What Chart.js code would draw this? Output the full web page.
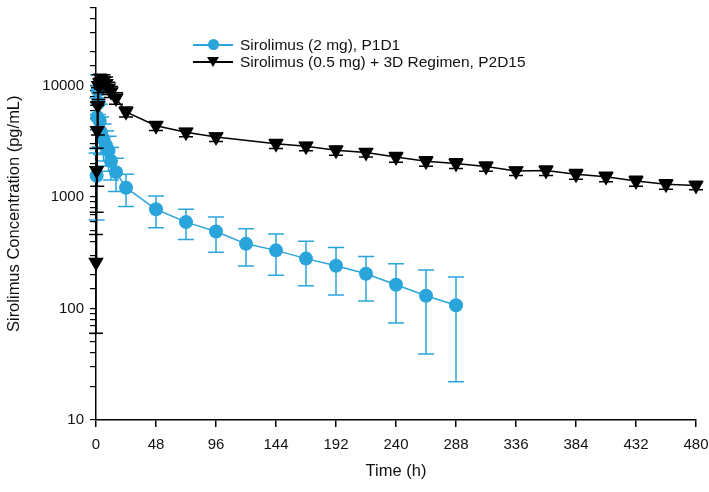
<!DOCTYPE html>
<html lang="en">
<head>
    <meta charset="UTF-8">
    <title>Sirolimus Concentration</title>
    <script src="https://cdn.jsdelivr.net/npm/chart.js"></script>
    <style>
        body { margin: 0; background: #fff; font-family: "Liberation Sans", Arial, sans-serif; }
        #wrap { position: relative; width: 709px; height: 492px; }
        .legend { position: absolute; left: 193px; top: 36px; font-size: 15.5px; color: #111; }
        .row { position: relative; height: 17px; line-height: 17px; padding-left: 47px; white-space: nowrap; }
        .ln { position: absolute; left: 0; top: 8px; width: 40px; height: 1.5px; }
        .dot { position: absolute; left: 15px; top: 3px; width: 11px; height: 11px; border-radius: 50%; background: #2aa5db; }
        .tri { position: absolute; left: 14px; top: 4px; width: 0; height: 0;
               border-left: 6px solid transparent; border-right: 6px solid transparent; border-top: 10px solid #000; }
    </style>
</head>
<body>
<div id="wrap">
    <canvas id="pkChart" width="709" height="492"></canvas>
    <div class="legend">
        <div class="row"><span class="ln" style="background:#2aa5db"></span><span class="dot"></span>Sirolimus (2 mg), P1D1</div>
        <div class="row"><span class="ln" style="background:#000"></span><span class="tri"></span>Sirolimus (0.5 mg) + 3D Regimen, P2D15</div>
    </div>
</div>
<script>
    // Sirolimus (2 mg), P1D1
    const blueTime = [0.5, 1, 1.5, 2, 3, 4, 6, 8, 10, 12, 16, 24, 48, 72, 96, 120, 144, 168, 192, 216, 240, 264, 288];
    const blueMean = [1550, 5200, 9000, 7000, 4800, 3800, 3300, 2900, 2600, 2100, 1670, 1210, 775, 595, 490, 380, 332, 280, 242, 205, 163, 130, 107];
    const blueSD   = [930, 2500, 3500, 3000, 2000, 1400, 1200, 1000, 900, 680, 550, 390, 245, 180, 170, 140, 133, 120, 110, 88, 89, 91, 85];

    // Sirolimus (0.5 mg) + 3D Regimen, P2D15
    const blackTime = [0, 0.5, 1, 1.5, 2, 3, 4, 6, 8, 10, 12, 16, 24, 48, 72, 96, 144, 168, 192, 216, 240, 264, 288, 312, 336, 360, 384, 408, 432, 456, 480];
    const blackMean = [260, 1730, 3950, 6600, 10000, 10600, 10800, 11000, 10400, 9500, 8800, 7700, 5800, 4350, 3800, 3450, 3000, 2850, 2620, 2500, 2280, 2090, 2000, 1880, 1710, 1730, 1600, 1520, 1390, 1300, 1270];
    const blackSD   = [200, 1000, 2700, 3000, 2500, 2000, 1500, 1500, 1500, 1200, 1000, 900, 600, 400, 330, 300, 280, 250, 250, 220, 230, 200, 200, 180, 150, 170, 160, 150, 140, 130, 110];

    const xTicks = [0, 48, 96, 144, 192, 240, 288, 336, 384, 432, 480];

    const BLUE = '#2aa5db';
    const FONT = '"Liberation Sans", Arial, sans-serif';

    function toPoints(t, m) {
        return t.map((v, i) => ({ x: v, y: m[i] }));
    }

    // markers are unclipped, so don't let their size push the plot area in
    Chart.registry.getController('line').prototype.getMaxOverflow = () => 0;

    // error bars drawn under each dataset's markers
    const errorBars = {
        id: 'errorBars',
        beforeDatasetDraw(chart, args) {
            const ds = chart.data.datasets[args.index];
            if (!ds.sd) return;
            const ctx = chart.ctx;
            const xs = chart.scales.x, ys = chart.scales.y;
            ctx.save();
            ctx.strokeStyle = ds.borderColor;
            ctx.lineWidth = 1.5;
            ds.data.forEach((p, i) => {
                const x = xs.getPixelForValue(p.x);
                const hi = ys.getPixelForValue(p.y + ds.sd[i]);
                const lo = ys.getPixelForValue(Math.max(p.y - ds.sd[i], ys.min));
                const w = ds.capWidth;
                ctx.beginPath();
                ctx.moveTo(x, hi); ctx.lineTo(x, lo);
                ctx.moveTo(x - w, hi); ctx.lineTo(x + w, hi);
                if (p.y - ds.sd[i] > ys.min) { ctx.moveTo(x - w, lo); ctx.lineTo(x + w, lo); }
                ctx.stroke();
            });
            ctx.restore();
        }
    };

    const ctx = document.getElementById('pkChart').getContext('2d');
    new Chart(ctx, {
        type: 'line',
        data: {
            datasets: [{
                label: 'Sirolimus (2 mg), P1D1',
                data: toPoints(blueTime, blueMean),
                sd: blueSD,
                capWidth: 8,
                borderColor: BLUE,
                backgroundColor: BLUE,
                borderWidth: 1.5,
                pointStyle: 'circle',
                pointRadius: 7,
                pointBorderWidth: 0,
                clip: false,
                order: 2
            }, {
                label: 'Sirolimus (0.5 mg) + 3D Regimen, P2D15',
                data: toPoints(blackTime, blackMean),
                sd: blackSD,
                capWidth: 7,
                borderColor: '#000',
                backgroundColor: '#000',
                borderWidth: 1.5,
                pointStyle: 'triangle',
                pointRotation: 180,
                pointRadius: 9,
                pointBorderWidth: 0,
                clip: false,
                order: 1
            }]
        },
        options: {
            responsive: false,
            animation: false,
            layout: { padding: { top: 5, right: 13, bottom: 0, left: 0 } },
            plugins: {
                legend: { display: false },
                tooltip: { enabled: false }
            },
            scales: {
                x: {
                    type: 'linear',
                    min: 0,
                    max: 480,
                    afterFit: s => { s.height = 72; s.paddingLeft = 0; s.paddingRight = 0; },
                    afterBuildTicks: s => { s.ticks = xTicks.map(v => ({ value: v })); },
                    grid: { drawOnChartArea: false, tickLength: 7, color: '#000', lineWidth: 1.5 },
                    border: { color: '#000', width: 1.5 },
                    ticks: { color: '#111', padding: 9, font: { family: FONT, size: 15 } },
                    title: { display: true, text: 'Time (h)', color: '#111', padding: { bottom: 11 },
                             font: { family: FONT, size: 16.5 } }
                },
                y: {
                    type: 'logarithmic',
                    min: 10,
                    max: 50000,
                    afterFit: s => { s.width = 96; },
                    grid: { drawOnChartArea: false, tickLength: 6, color: '#000', lineWidth: 1.2 },
                    border: { color: '#000', width: 1.5 },
                    ticks: {
                        autoSkip: false,
                        color: '#111',
                        padding: 6,
                        font: { family: FONT, size: 15, lineHeight: 0.2 },
                        callback: v => {
                            const l = Math.log10(v);
                            return Math.abs(l - Math.round(l)) < 1e-9 ? String(v) : '';
                        }
                    },
                    title: { display: true, text: 'Sirolimus Concentration (pg/mL)', color: '#111',
                             padding: { top: 5 }, font: { family: FONT, size: 16.5 } }
                }
            }
        },
        plugins: [errorBars]
    });
</script>
</body>
</html>
